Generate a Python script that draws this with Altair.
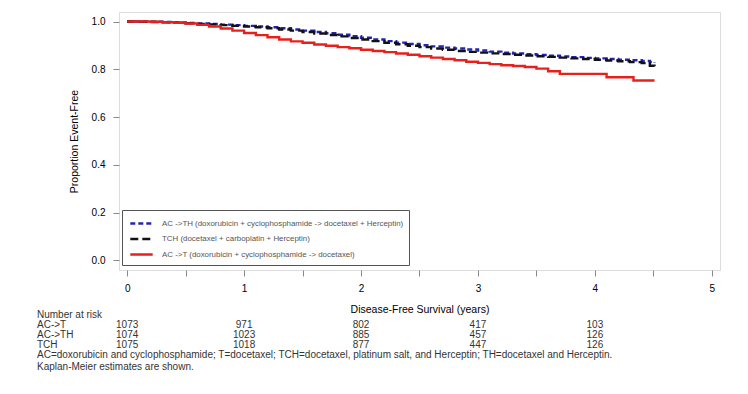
import altair as alt
import pandas as pd

FONT = "Liberation Sans"

series_names = [
    "AC ->TH (doxorubicin + cyclophosphamide -> docetaxel + Herceptin)",
    "TCH (docetaxel + carboplatin + Herceptin)",
    "AC ->T (doxorubicin + cyclophosphamide -> docetaxel)",
]
series_colors = ["#2323b4", "#111111", "#e8201c"]
series_dash = [[5, 3], [8, 4], [1, 0]]

# Kaplan-Meier step points
act_t = [0, 0.1, 0.2, 0.3, 0.4, 0.5, 0.6, 0.7, 0.8, 0.9, 1.0, 1.1, 1.2, 1.3, 1.4, 1.5, 1.6,
         1.7, 1.8, 1.9, 2.0, 2.1, 2.2, 2.3, 2.4, 2.5, 2.6, 2.7, 2.8, 2.9, 3.0, 3.1, 3.2, 3.3,
         3.4, 3.5, 3.6, 3.7, 4.1, 4.33, 4.51]
act_s = [1.0, 1.0, 0.999, 0.997, 0.995, 0.992, 0.986, 0.979, 0.971, 0.962, 0.952, 0.943,
         0.934, 0.925, 0.917, 0.911, 0.904, 0.899, 0.893, 0.888, 0.882, 0.877, 0.872, 0.866,
         0.861, 0.855, 0.849, 0.843, 0.838, 0.832, 0.827, 0.822, 0.817, 0.814, 0.810, 0.803,
         0.792, 0.781, 0.767, 0.753, 0.753]

acth_t = [0, 0.1, 0.2, 0.3, 0.4, 0.5, 0.6, 0.7, 0.8, 0.9, 1.0, 1.1, 1.2, 1.3, 1.4, 1.5, 1.6,
          1.7, 1.8, 1.9, 2.0, 2.1, 2.2, 2.3, 2.4, 2.5, 2.6, 2.7, 2.8, 2.9, 3.0, 3.1, 3.2, 3.3,
          3.4, 3.5, 3.6, 3.7, 3.8, 3.9, 4.0, 4.1, 4.2, 4.3, 4.4, 4.47, 4.51]
acth_s = [1.0, 1.0, 0.999, 0.998, 0.996, 0.994, 0.992, 0.990, 0.987, 0.985, 0.982, 0.979,
          0.976, 0.972, 0.967, 0.962, 0.956, 0.951, 0.945, 0.939, 0.932, 0.925, 0.918, 0.912,
          0.906, 0.901, 0.896, 0.891, 0.887, 0.883, 0.879, 0.874, 0.870, 0.866, 0.863, 0.860,
          0.857, 0.854, 0.851, 0.848, 0.846, 0.843, 0.840, 0.838, 0.835, 0.831, 0.828]

tch_t = acth_t
tch_s = [1.0, 0.999, 0.998, 0.997, 0.995, 0.993, 0.990, 0.988, 0.985, 0.982, 0.979, 0.976,
         0.972, 0.967, 0.962, 0.956, 0.950, 0.944, 0.938, 0.931, 0.925, 0.918, 0.911, 0.905,
         0.899, 0.893, 0.887, 0.882, 0.877, 0.873, 0.870, 0.867, 0.864, 0.861, 0.858, 0.855,
         0.852, 0.849, 0.846, 0.843, 0.840, 0.837, 0.834, 0.830, 0.826, 0.815, 0.805]

# Number at risk
risk_times = [0, 1, 2, 3, 4]
risk_rows = ["AC->T", "AC->TH", "TCH"]
risk_act = [1073, 971, 802, 417, 103]
risk_acth = [1074, 1023, 885, 457, 126]
risk_tch = [1075, 1018, 877, 447, 126]

footnote1 = ("AC=doxorubicin and cyclophosphamide; T=docetaxel; TCH=docetaxel, platinum salt, "
             "and Herceptin; TH=docetaxel and Herceptin.")
footnote2 = "Kaplan-Meier estimates are shown."

rows = []
for name, ts, ss in [(series_names[0], acth_t, acth_s),
                     (series_names[1], tch_t, tch_s),
                     (series_names[2], act_t, act_s)]:
    for t, s in zip(ts, ss):
        rows.append({"series": name, "t": t, "s": s})
df = pd.DataFrame(rows)

xscale = alt.Scale(domain=[-0.07, 5.07], nice=False, zero=False)
yscale = alt.Scale(domain=[-0.04, 1.04], nice=False, zero=False)

lines = alt.Chart(df).mark_line(interpolate="step-after", strokeWidth=2.4).encode(
    x=alt.X("t:Q", scale=xscale,
            axis=alt.Axis(values=[0, 0.5, 1, 1.5, 2, 2.5, 3, 3.5, 4, 4.5, 5],
                          labelExpr="datum.value % 1 == 0 ? format(datum.value, 'd') : ''",
                          title="Disease-Free Survival (years)", titlePadding=11,
                          titleFontWeight="normal", titleFontSize=10.5,
                          tickSize=6, labelPadding=7, grid=False, domain=False)),
    y=alt.Y("s:Q", scale=yscale,
            axis=alt.Axis(values=[0, 0.2, 0.4, 0.6, 0.8, 1.0], format=".1f",
                          title="Proportion Event-Free", titlePadding=12,
                          titleFontWeight="normal", titleFontSize=10.5,
                          tickSize=6, labelPadding=8, grid=False, domain=False)),
    color=alt.Color("series:N", scale=alt.Scale(domain=series_names, range=series_colors),
                    legend=alt.Legend(title=None, orient="none", legendX=3, legendY=198,
                                      symbolType="M-1.6,0H1.6", symbolSize=196,
                                      symbolStrokeWidth=2.4, symbolOffset=6,
                                      labelOffset=12, labelFontSize=7.9, labelColor="#555",
                                      labelFont=FONT, rowPadding=1.5,
                                      strokeColor="#555", padding=5, labelLimit=400)),
    strokeDash=alt.StrokeDash("series:N", scale=alt.Scale(domain=series_names, range=series_dash),
                              legend=None),
)

# number at risk table
risk_df = []
for r, vals in zip(risk_rows, [risk_act, risk_acth, risk_tch]):
    for t, v in zip(risk_times, vals):
        risk_df.append({"row": r, "t": t, "n": str(v)})
risk_df = pd.DataFrame(risk_df)

TXT = 10
row_y = {"AC->T": 313, "AC->TH": 323, "TCH": 333}
risk_layers = []
for r in risk_rows:
    sub = risk_df[risk_df["row"] == r]
    risk_layers.append(
        alt.Chart(sub).mark_text(fontSize=TXT, font=FONT, color="#333", baseline="middle",
                                 align="center", dx=0).encode(
            x=alt.X("t:Q", scale=xscale), y=alt.value(row_y[r]), text="n:N")
    )
    risk_layers.append(
        alt.Chart(pd.DataFrame({"label": [r]})).mark_text(
            fontSize=TXT, font=FONT, color="#333", baseline="middle", align="left").encode(
            x=alt.value(-82), y=alt.value(row_y[r]), text="label:N")
    )

notes_df = pd.DataFrame({"label": ["Number at risk", footnote1, footnote2],
                         "ypix": [303, 343, 355]})
notes = alt.Chart(notes_df).mark_text(fontSize=TXT, font=FONT, color="#333",
                                      baseline="middle", align="left").encode(
    x=alt.value(-82), y=alt.Y("ypix:Q", scale=None), text="label:N")

chart = alt.layer(lines, *risk_layers, notes).properties(
    width=601, height=258,
    autosize=alt.AutoSizeParams(type="none"),
    padding={"left": 111, "top": 4, "right": 20, "bottom": 110},
).configure_view(stroke="#8a8a8a", strokeWidth=1.2).configure_axis(
    labelFont=FONT, titleFont=FONT, labelFontSize=10.5,
    labelColor="#555", titleColor="#444", tickColor="#777",
).configure(background="white")

chart.save("out.html", embed_options={"renderer": "svg", "actions": False})
